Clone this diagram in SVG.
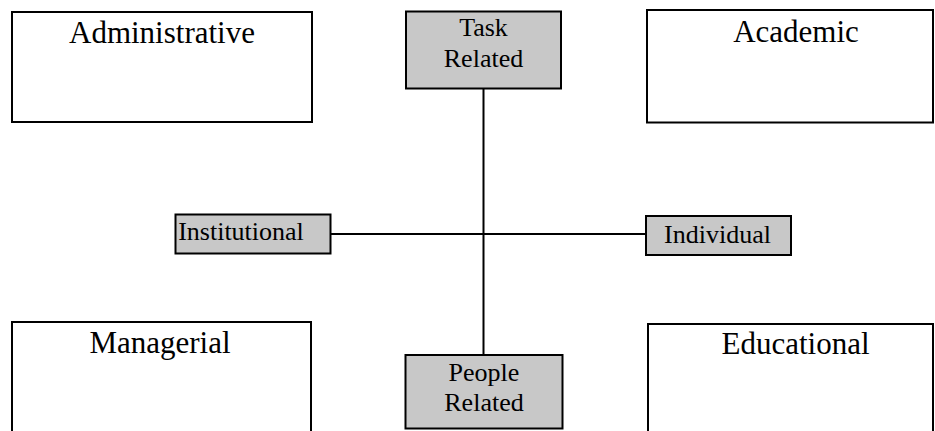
<svg xmlns="http://www.w3.org/2000/svg" width="935" height="431" viewBox="0 0 935 431">
<style>
.box{fill:#ffffff;stroke:#000000;stroke-width:2}
.gbox{fill:#c8c8c8;stroke:#000000;stroke-width:2}
.big{font-family:"Liberation Serif","Times New Roman",serif;font-size:31px;fill:#000000;text-anchor:middle}
.small{font-family:"Liberation Serif","Times New Roman",serif;font-size:26px;fill:#000000;text-anchor:middle}
.conn{stroke:#000000;stroke-width:2;fill:none}
</style>
<rect width="935" height="431" fill="#ffffff"/>
<g id="connectors">
<line class="conn" x1="483.5" y1="89" x2="483.5" y2="355"/>
<line class="conn" x1="330" y1="234" x2="646" y2="234"/>
</g>
<g id="administrative">
<rect class="box" x="12" y="12" width="300" height="110"/>
<text class="big" x="162" y="43">Administrative</text>
</g>
<g id="academic">
<rect class="box" x="647" y="10" width="286" height="112.5"/>
<text class="big" x="796" y="41.5">Academic</text>
</g>
<g id="task-related">
<rect class="gbox" x="406" y="11.5" width="155" height="77"/>
<text class="small" x="483.5" y="36">Task</text>
<text class="small" x="483.5" y="66.5">Related</text>
</g>
<g id="institutional">
<rect class="gbox" x="175.5" y="214.5" width="155" height="39"/>
<text class="small" x="241" y="239.5">Institutional</text>
</g>
<g id="individual">
<rect class="gbox" x="646" y="216" width="145" height="39"/>
<text class="small" x="717.5" y="243">Individual</text>
</g>
<g id="managerial">
<rect class="box" x="12" y="322" width="299" height="120"/>
<text class="big" x="160" y="353">Managerial</text>
</g>
<g id="people-related">
<rect class="gbox" x="405.5" y="355" width="157" height="73.5"/>
<text class="small" x="484" y="380.5">People</text>
<text class="small" x="484" y="411">Related</text>
</g>
<g id="educational">
<rect class="box" x="648" y="324" width="285" height="120"/>
<text class="big" x="795.5" y="354">Educational</text>
</g>
</svg>
